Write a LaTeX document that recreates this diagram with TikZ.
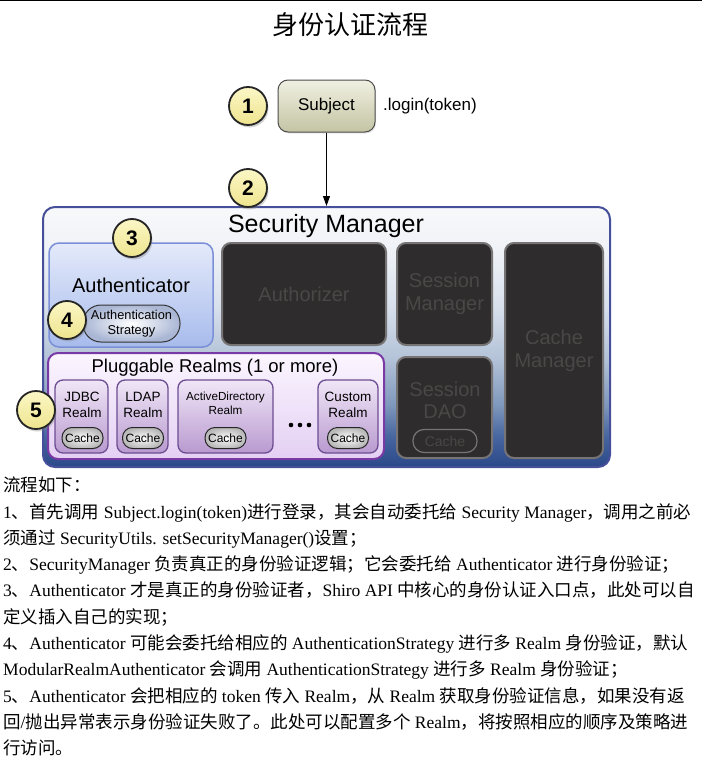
\documentclass[tikz,border=0pt]{standalone}
\usepackage{fontspec}
\setmainfont{Liberation Serif}
\newfontfamily\cjk{Noto Sans CJK SC}
\newfontfamily\dsans{Liberation Sans}
\usetikzlibrary{shadows,arrows.meta}
\newcommand\zh[1]{{\cjk #1}}
\definecolor{smA}{HTML}{2A4888}
\definecolor{smB}{HTML}{4866A0}
\definecolor{smC}{HTML}{7F98BC}
\definecolor{smD}{HTML}{B4C3D8}
\definecolor{smE}{HTML}{D8E0EC}
\definecolor{smF}{HTML}{EEF1F6}
\definecolor{smG}{HTML}{F8F9FB}
\definecolor{smborder}{HTML}{46509A}
\definecolor{cy1}{HTML}{FBF7C6}
\definecolor{cy2}{HTML}{EEE48E}
\definecolor{dkf}{HTML}{2F2C2D}
\definecolor{dkb}{HTML}{767474}
\definecolor{dkt}{HTML}{4A4747}
\definecolor{auT}{HTML}{E4EAFA}
\definecolor{auB}{HTML}{A7BBEC}
\definecolor{auD}{HTML}{7B8FD8}
\definecolor{plT}{HTML}{FBF6FF}
\definecolor{plB}{HTML}{E4CFF3}
\definecolor{plD}{HTML}{7A3AA6}
\definecolor{reT}{HTML}{F0E6F7}
\definecolor{reB}{HTML}{B99AD0}
\definecolor{reD}{HTML}{6C4D92}
\definecolor{sjT}{HTML}{F0F0E2}
\definecolor{sjB}{HTML}{C4C4A4}
\definecolor{stO}{HTML}{A9B6D4}
\pgfdeclareverticalshading{smshade}{100bp}{color(0bp)=(smA); color(25bp)=(smA); color(31bp)=(smB); color(37bp)=(smC); color(46bp)=(smD); color(56bp)=(smE); color(66bp)=(smF); color(75bp)=(smG); color(100bp)=(smG)}
\begin{document}
\begin{tikzpicture}[x=1pt,y=-1pt,
  numc/.style={circle, draw=black!85, line width=1.8pt, top color=cy1, bottom color=cy2, minimum size=38pt, inner sep=0pt, font=\dsans\bfseries\fontsize{21}{21}\selectfont, drop shadow={opacity=0.35, shadow xshift=1.5pt, shadow yshift=-2.5pt}},
  smbox/.style={rectangle, rounded corners=12pt, draw=smborder, line width=2pt, shading=smshade, inner sep=0pt},
  darkbox/.style={rectangle, rounded corners=9pt, draw=dkb, line width=2pt, fill=dkf, text=dkt, font=\dsans\fontsize{20}{23}\selectfont, align=center, inner sep=0pt},
  authbox/.style={rectangle, rounded corners=10pt, draw=auD, line width=1.5pt, top color=auT, bottom color=auB, inner sep=0pt},
  plugbox/.style={rectangle, rounded corners=10pt, draw=plD, line width=2pt, top color=plT, bottom color=plB, inner sep=0pt},
  realmbox/.style={rectangle, rounded corners=8pt, draw=reD, line width=1.3pt, top color=reT, bottom color=reB, inner sep=0pt},
  cachepill/.style={rectangle, rounded corners=10pt, draw=black!85, line width=1pt, inner color=white, outer color=black!28, minimum width=41pt, minimum height=21pt, inner sep=0pt, font=\dsans\fontsize{12}{12}\selectfont},
  dkcache/.style={rectangle, rounded corners=11pt, draw=dkb, line width=1.2pt, minimum width=64pt, minimum height=23pt, inner sep=0pt, text=dkt, font=\dsans\fontsize{14}{14}\selectfont},
  subjbox/.style={rectangle, rounded corners=10pt, draw=black!70, line width=1pt, top color=sjT, bottom color=sjB, inner sep=0pt, font=\dsans\fontsize{17}{17}\selectfont, drop shadow={opacity=0.2, shadow xshift=1pt, shadow yshift=-1.5pt}},
  lbl/.style 2 args={inner sep=0pt, align=center, font=\dsans\fontsize{#1}{#2}\selectfont},
  body/.style={anchor=base west, inner sep=0pt, font=\fontsize{17.5}{20}\selectfont}
]
\useasboundingbox (0,0) rectangle (710,768);
\draw[line width=1.2pt] (0,0.6) -- (702,0.6);
% title
\node[inner sep=0pt, font=\cjk\fontsize{26}{26}\selectfont] (title) at (350,25) {身份认证流程};
% security manager
\node[smbox, minimum width=567pt, minimum height=260pt] (sm) at (326.5,337) {};
\node[lbl={25}{29}] (smlbl) at (326,226) {Security Manager};
% authenticator
\node[authbox, minimum width=164pt, minimum height=104pt] (auth) at (131,295) {};
\node[lbl={20}{23}] (authlbl) at (131,285) {Authenticator};
\node[rectangle, rounded corners=18pt, draw=black!80, line width=1pt, inner color=white, outer color=stO, minimum width=97pt, minimum height=37pt, inner sep=0pt, lbl={12.8}{15}] (strat) at (131.5,323.5) {Authentication\\Strategy};
% dark components
\node[darkbox, minimum width=164pt, minimum height=102pt] (authz) at (304,294) {Authorizer};
\node[darkbox, minimum width=95pt, minimum height=102pt] (sessmgr) at (444.5,294) {Session\\Manager};
\node[darkbox, minimum width=98pt, minimum height=215pt] (cachemgr) at (554,350.5) {Cache\\Manager};
\node[darkbox, minimum width=95pt, minimum height=101pt] (sessdao) at (444.5,407.5) {};
\node[lbl={20}{22}, text=dkt] (sessdaolbl) at (445,400) {Session\\DAO};
\node[dkcache] (daocache) at (445,441) {Cache};
% pluggable realms
\node[plugbox, minimum width=336pt, minimum height=106pt] (plug) at (216,406) {};
\node[lbl={18.5}{21}] (pluglbl) at (215,368) {Pluggable Realms (1 or more)};
\node[realmbox, minimum width=53pt, minimum height=73pt] (jdbc) at (81.5,416.5) {};
\node[realmbox, minimum width=51pt, minimum height=73pt] (ldap) at (142.5,416.5) {};
\node[realmbox, minimum width=95pt, minimum height=73pt] (ad) at (225.5,416.5) {};
\node[realmbox, minimum width=60pt, minimum height=73pt] (custom) at (348,416.5) {};
\node[lbl={13.5}{15.5}] (jdbclbl) at (82,405) {JDBC\\Realm};
\node[lbl={13.5}{15.5}] (ldaplbl) at (143,405) {LDAP\\Realm};
\node[lbl={11.7}{14}] (adlbl) at (225.5,403) {ActiveDirectory\\Realm};
\node[lbl={13.5}{15.5}] (customlbl) at (348,405) {Custom\\Realm};
\node[cachepill] (c1) at (82.5,438) {Cache};
\node[cachepill] (c2) at (143,438) {Cache};
\node[cachepill] (c3) at (225.5,438) {Cache};
\node[cachepill] (c4) at (348,438) {Cache};
\foreach \dx [count=\i] in {-9,0,9}{\fill (300+\dx,425) circle (2.3pt) coordinate (dot\i);}
% subject
\node[subjbox, minimum width=97pt, minimum height=52pt] (subj) at (326.5,106) {Subject};
\node[anchor=west, lbl={17}{17}] (login) at (383,106) {.login(token)};
\draw[line width=1pt, -{Triangle[width=7pt,length=10pt]}] (subj.south) -- (sm.north);
% numbers
\node[numc] (n1) at (248,106) {1};
\node[numc] (n2) at (248,188) {2};
\node[numc] (n3) at (132,238) {3};
\node[numc] (n4) at (67,320) {4};
\node[numc] (n5) at (36,410) {5};
% body text
\node[body] (t0) at (3,491) {\zh{流程如下：}};
\node[body] (t1) at (3,518) {1\zh{、首先调用} Subject.login(token)\zh{进行登录，其会自动委托给} Security Manager\zh{，调用之前必}};
\node[body] (t2) at (3,544) {\zh{须通过} SecurityUtils. setSecurityManager()\zh{设置；}};
\node[body] (t3) at (3,570) {2\zh{、}SecurityManager \zh{负责真正的身份验证逻辑；它会委托给} Authenticator \zh{进行身份验证；}};
\node[body] (t4) at (3,596) {3\zh{、}Authenticator \zh{才是真正的身份验证者，}Shiro API \zh{中核心的身份认证入口点，此处可以自}};
\node[body] (t5) at (3,623) {\zh{定义插入自己的实现；}};
\node[body] (t6) at (3,649) {4\zh{、}Authenticator \zh{可能会委托给相应的} AuthenticationStrategy \zh{进行多} Realm \zh{身份验证，默认}};
\node[body] (t7) at (3,675) {ModularRealmAuthenticator \zh{会调用} AuthenticationStrategy \zh{进行多} Realm \zh{身份验证；}};
\node[body] (t8) at (3,702) {5\zh{、}Authenticator \zh{会把相应的} token \zh{传入} Realm\zh{，从} Realm \zh{获取身份验证信息，如果没有返}};
\node[body] (t9) at (3,728) {\zh{回}/\zh{抛出异常表示身份验证失败了。此处可以配置多个} Realm\zh{，将按照相应的顺序及策略进}};
\node[body] (t10) at (3,754) {\zh{行访问。}};
\end{tikzpicture}
\end{document}
